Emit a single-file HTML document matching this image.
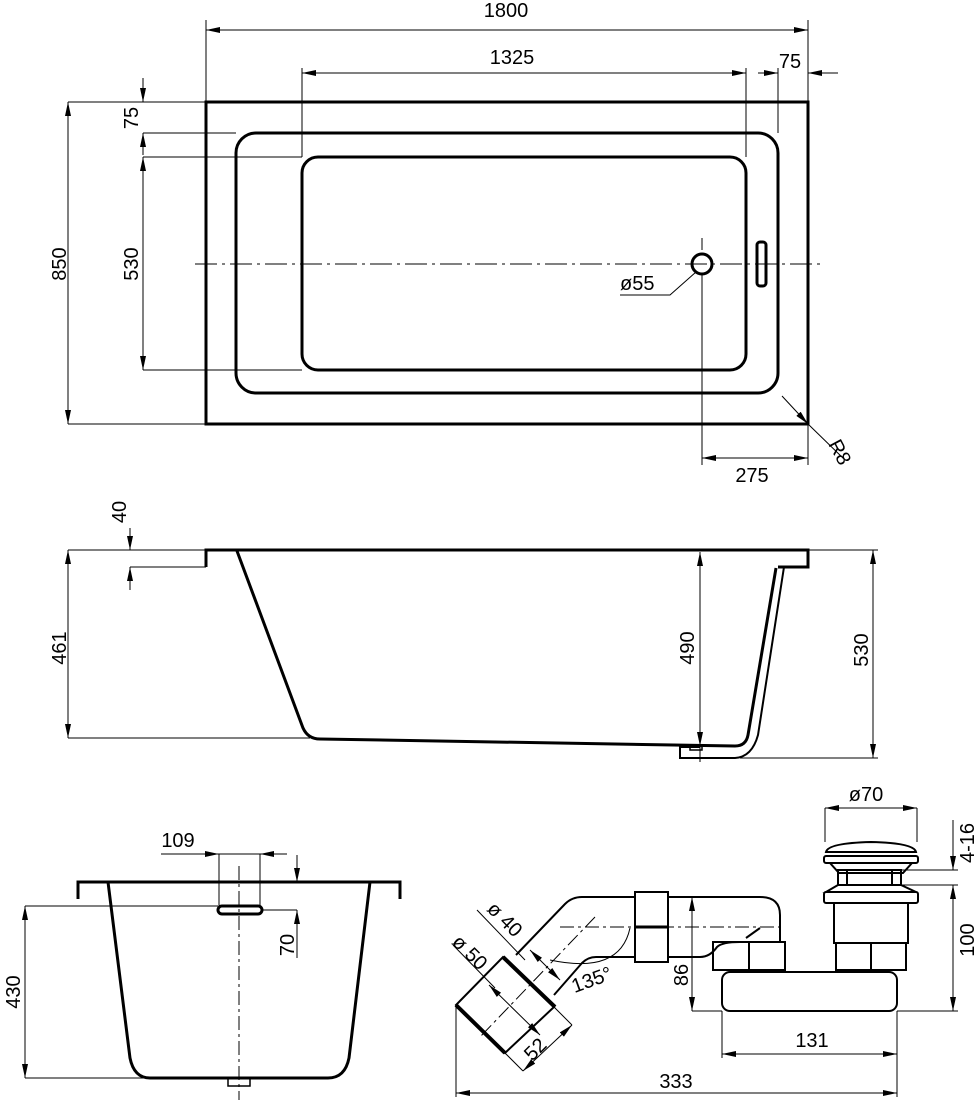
<!DOCTYPE html>
<html><head><meta charset="utf-8"><style>
html,body{margin:0;padding:0;background:#fff;}
svg{display:block;}
text{font-family:"Liberation Sans",Arial,sans-serif;font-size:20px;fill:#000;}
</style></head><body>
<svg width="978" height="1100" viewBox="0 0 978 1100" xmlns="http://www.w3.org/2000/svg">
<defs>
<marker id="a" viewBox="0 0 14 6" refX="14" refY="3" markerWidth="14" markerHeight="6" markerUnits="userSpaceOnUse" orient="auto-start-reverse"><path d="M0,0 L14,3 L0,6 z" fill="#000"/></marker>
</defs>
<g fill="none" stroke="#000">
<!-- TOP VIEW -->
<rect x="206" y="102" width="602" height="322" stroke-width="3"/>
<rect x="236" y="133" width="542" height="260" rx="20" stroke-width="3"/>
<rect x="302" y="157" width="444" height="213" rx="16" stroke-width="3"/>
<line x1="195" y1="264" x2="820" y2="264" stroke-width="1" stroke-dasharray="22,5,3,5"/>
<line x1="702" y1="238" x2="702" y2="250" stroke-width="1"/>
<circle cx="702" cy="264" r="10" stroke-width="3"/>
<rect x="757" y="242" width="9" height="44" rx="3" stroke-width="3"/>
<g stroke-width="1">
<line x1="206" y1="20" x2="206" y2="102"/><line x1="808" y1="20" x2="808" y2="102"/>
<line x1="206" y1="30" x2="808" y2="30" marker-start="url(#a)" marker-end="url(#a)"/>
<line x1="302" y1="68" x2="302" y2="157"/><line x1="746" y1="68" x2="746" y2="157"/>
<line x1="778" y1="68" x2="778" y2="133"/>
<line x1="302" y1="73" x2="746" y2="73" marker-start="url(#a)" marker-end="url(#a)"/>
<line x1="758" y1="73" x2="778" y2="73" marker-end="url(#a)"/>
<line x1="838" y1="73" x2="808" y2="73" marker-end="url(#a)"/>
<line x1="68" y1="102" x2="206" y2="102"/><line x1="68" y1="424" x2="206" y2="424"/>
<line x1="68" y1="102" x2="68" y2="424" marker-start="url(#a)" marker-end="url(#a)"/>
<line x1="143" y1="133" x2="236" y2="133"/><line x1="143" y1="157" x2="302" y2="157"/><line x1="143" y1="370" x2="302" y2="370"/>
<line x1="143" y1="78" x2="143" y2="102" marker-end="url(#a)"/>
<line x1="143" y1="155" x2="143" y2="133" marker-end="url(#a)"/>
<line x1="143" y1="157" x2="143" y2="370" marker-start="url(#a)" marker-end="url(#a)"/>
<polyline points="620,295 670,295 696,272"/>
<line x1="702" y1="274" x2="702" y2="465"/><line x1="808" y1="424" x2="808" y2="465"/>
<line x1="702" y1="458" x2="808" y2="458" marker-start="url(#a)" marker-end="url(#a)"/>
<line x1="782" y1="396" x2="808" y2="424" marker-end="url(#a)"/>
<line x1="808" y1="424" x2="845" y2="460"/>
</g>
<!-- SIDE VIEW -->
<path d="M206,567 L206,550 L808,550 L808,567 L778,567" stroke-width="3"/>
<path d="M237,551 L303,728 Q308,739 320,739 L735,746 Q746,746 748,735 L776,568" stroke-width="3"/>
<path d="M784,567 L758,735 Q752,757 735,758 L680,758 L680,747 L700,747" stroke-width="2"/>
<rect x="690" y="745" width="12" height="5" stroke-width="1.5"/>
<g stroke-width="1">
<line x1="130" y1="567" x2="206" y2="567"/><line x1="68" y1="550" x2="206" y2="550"/>
<line x1="130" y1="528" x2="130" y2="550" marker-end="url(#a)"/>
<line x1="130" y1="590" x2="130" y2="567" marker-end="url(#a)"/>
<line x1="68" y1="738" x2="310" y2="738"/>
<line x1="68" y1="550" x2="68" y2="738" marker-start="url(#a)" marker-end="url(#a)"/>
<line x1="700" y1="552" x2="700" y2="746" marker-start="url(#a)" marker-end="url(#a)"/>
<line x1="700" y1="746" x2="700" y2="762"/>
<line x1="808" y1="550" x2="878" y2="550"/><line x1="740" y1="758" x2="878" y2="758"/>
<line x1="873" y1="550" x2="873" y2="758" marker-start="url(#a)" marker-end="url(#a)"/>
</g>
<!-- END VIEW -->
<path d="M78,899 L78,882 L400,882 L400,899" stroke-width="3"/>
<path d="M108,882 L130,1058 Q134,1078 150,1078 L328,1078 Q345,1078 349,1058 L370,882" stroke-width="3"/>
<rect x="218" y="906" width="44" height="8" rx="4" stroke-width="3"/>
<rect x="228" y="1078" width="22" height="8" stroke-width="1.5"/>
<line x1="239" y1="866" x2="239" y2="1100" stroke-width="1" stroke-dasharray="14,4,3,4"/>
<g stroke-width="1">
<line x1="161" y1="854" x2="219" y2="854" marker-end="url(#a)"/>
<line x1="287" y1="854" x2="260" y2="854" marker-end="url(#a)"/>
<line x1="219" y1="854" x2="260" y2="854"/>
<line x1="219" y1="854" x2="219" y2="906"/><line x1="260" y1="854" x2="260" y2="906"/>
<line x1="297" y1="855" x2="297" y2="882" marker-end="url(#a)"/>
<line x1="297" y1="958" x2="297" y2="910" marker-end="url(#a)"/>
<line x1="262" y1="910" x2="297" y2="910"/>
<line x1="25" y1="906" x2="218" y2="906"/><line x1="25" y1="1078" x2="145" y2="1078"/>
<line x1="25" y1="906" x2="25" y2="1078" marker-start="url(#a)" marker-end="url(#a)"/>
</g>
<!-- SIPHON -->
<g stroke-width="2">
<path d="M826,852 Q828,843 871,842 Q914,843 916,852 Z"/>
<rect x="824" y="856" width="94" height="7" rx="2"/>
<path d="M830,863 L912,863 L903,873 L839,873 Z"/>
<rect x="838" y="870" width="63" height="15"/>
<line x1="847" y1="870" x2="847" y2="885"/><line x1="892" y1="870" x2="892" y2="885"/>
<path d="M838,885 L826,892 L916,892 L901,885"/>
<rect x="824" y="892" width="94" height="11" rx="2"/>
<rect x="834" y="903" width="74" height="40"/>
<rect x="836" y="943" width="70" height="27"/>
<line x1="871" y1="943" x2="871" y2="970"/>
<rect x="722" y="972" width="175" height="39" rx="8"/>
<rect x="713" y="942" width="72" height="28"/>
<line x1="749" y1="942" x2="749" y2="970"/>
<path d="M668,897 L760,897 Q780,897 780,915 L780,942"/>
<path d="M668,957 L700,957 Q710,957 717,947 Q722,942 740,942"/>
<line x1="746" y1="938" x2="760" y2="928"/>
<rect x="635" y="892" width="33" height="70"/>
<line x1="635" y1="927" x2="668" y2="927" stroke-width="3"/>
<path d="M635,897 L582,897 Q572,897 565,904 L516,955"/>
<path d="M635,957 L596,957 Q588,957 582,963 L554,995"/>
<path d="M503,957 L554,1007 L505,1053 L456,1005 Z"/>
<line x1="503" y1="957" x2="555" y2="1007" stroke-width="4"/>
<line x1="456" y1="1005" x2="505" y2="1053" stroke-width="4"/>
</g>
<g stroke-width="1">
<line x1="560" y1="927" x2="785" y2="927" stroke-dasharray="14,4,3,4"/>
<line x1="595" y1="917" x2="480" y2="1037" stroke-dasharray="14,4,3,4"/>
<path d="M630,928 Q620,975 550,960" />
<line x1="825" y1="808" x2="917" y2="808" marker-start="url(#a)" marker-end="url(#a)"/>
<line x1="825" y1="808" x2="825" y2="842"/><line x1="917" y1="808" x2="917" y2="842"/>
<line x1="901" y1="870" x2="958" y2="870"/><line x1="901" y1="885" x2="958" y2="885"/>
<line x1="953" y1="820" x2="953" y2="870" marker-end="url(#a)"/>
<line x1="953" y1="885" x2="953" y2="1011" marker-start="url(#a)" marker-end="url(#a)"/>
<line x1="897" y1="1011" x2="958" y2="1011"/>
<line x1="692" y1="897" x2="692" y2="1011" marker-start="url(#a)" marker-end="url(#a)"/>
<line x1="692" y1="1011" x2="722" y2="1011"/>
<line x1="722" y1="1011" x2="722" y2="1058"/><line x1="897" y1="1011" x2="897" y2="1097"/>
<line x1="722" y1="1054" x2="897" y2="1054" marker-start="url(#a)" marker-end="url(#a)"/>
<line x1="456" y1="1005" x2="456" y2="1097"/>
<line x1="456" y1="1093" x2="897" y2="1093" marker-start="url(#a)" marker-end="url(#a)"/>
<line x1="477" y1="910" x2="525" y2="960"/>
<line x1="453" y1="945" x2="495" y2="988" />
<line x1="489" y1="985" x2="540" y2="1035" marker-start="url(#a)" marker-end="url(#a)"/>
<line x1="530" y1="950" x2="560" y2="980" marker-start="url(#a)" marker-end="url(#a)"/>
<line x1="554" y1="1007" x2="572" y2="1025"/><line x1="505" y1="1053" x2="523" y2="1071"/>
<line x1="572" y1="1025" x2="523" y2="1071" marker-start="url(#a)" marker-end="url(#a)"/>
</g>
</g>
<!-- TEXT -->
<text x="506" y="17" text-anchor="middle">1800</text>
<text x="512" y="64" text-anchor="middle">1325</text>
<text x="790" y="68" text-anchor="middle">75</text>
<text transform="translate(66,264) rotate(-90)" text-anchor="middle">850</text>
<text transform="translate(138,118) rotate(-90)" text-anchor="middle">75</text>
<text transform="translate(138,264) rotate(-90)" text-anchor="middle">530</text>
<text x="620" y="290">ø55</text>
<text x="752" y="482" text-anchor="middle">275</text>
<text transform="translate(828,444) rotate(62)">R8</text>
<text transform="translate(126,512) rotate(-90)" text-anchor="middle">40</text>
<text transform="translate(66,648) rotate(-90)" text-anchor="middle">461</text>
<text transform="translate(694,648) rotate(-90)" text-anchor="middle">490</text>
<text transform="translate(868,650) rotate(-90)" text-anchor="middle">530</text>
<text x="178" y="847" text-anchor="middle">109</text>
<text transform="translate(294,945) rotate(-90)" text-anchor="middle">70</text>
<text transform="translate(20,992) rotate(-90)" text-anchor="middle">430</text>
<text x="866" y="801" text-anchor="middle">ø70</text>
<text transform="translate(974,843) rotate(-90)" text-anchor="middle">4-16</text>
<text transform="translate(974,940) rotate(-90)" text-anchor="middle">100</text>
<text transform="translate(688,975) rotate(-90)" text-anchor="middle">86</text>
<text x="812" y="1047" text-anchor="middle">131</text>
<text x="676" y="1088" text-anchor="middle">333</text>
<text transform="translate(486,910) rotate(45)">ø 40</text>
<text transform="translate(451,943) rotate(45)">ø 50</text>
<text transform="translate(540,1054) rotate(-45)" text-anchor="middle">52</text>
<text transform="translate(594,986) rotate(-20)" text-anchor="middle">135°</text>
</svg>
</body></html>
